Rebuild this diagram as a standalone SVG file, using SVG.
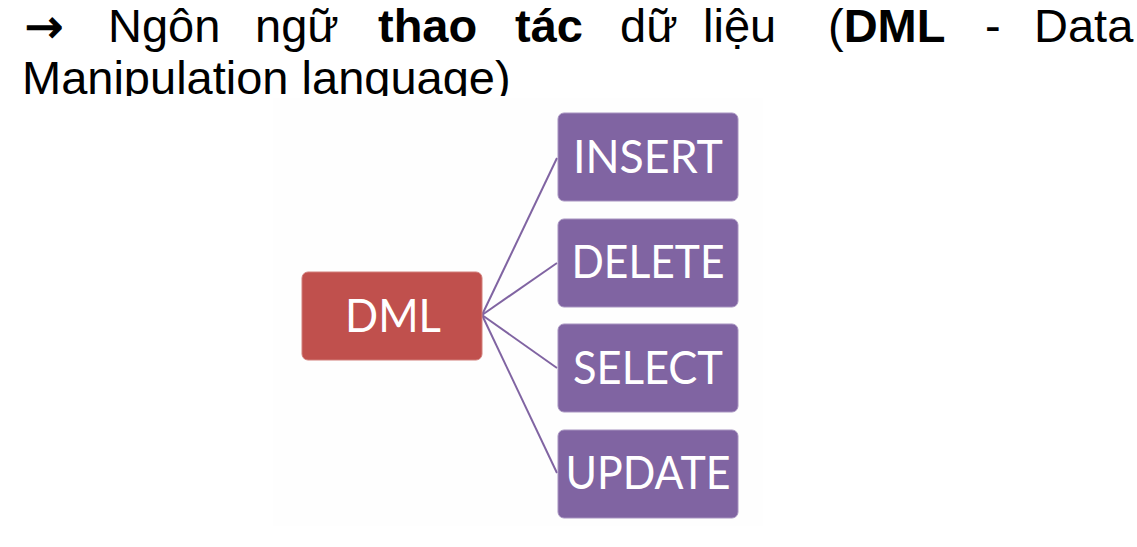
<svg xmlns="http://www.w3.org/2000/svg" width="1137" height="547" viewBox="0 0 1137 547">
<style>
.t{font-family:"Liberation Sans",Arial,sans-serif;font-size:47px;fill:#000}
.b{font-weight:bold}
.a{font-family:"DejaVu Sans",sans-serif;font-size:46px;fill:#000;stroke:#000;stroke-width:1.2}
.n{font-family:Lato,"Open Sans",sans-serif;font-size:46px;fill:#fff;text-anchor:middle}
.p{fill:#8064A2;stroke:#a793c0;stroke-width:1}
.r{fill:#C0504D;stroke:#d27e7b;stroke-width:1}
.c{stroke:#8064A2;stroke-width:2;fill:none}
</style>
<defs>
<clipPath id="clipT"><rect x="0" y="50" width="1137" height="46"/></clipPath>
</defs>
<rect width="1137" height="547" fill="#fff"/>
<g id="title">
<text class="a" x="25" y="42">→</text>
<text class="t" y="42"><tspan x="108">Ngôn</tspan><tspan x="255">ngữ</tspan><tspan x="378" class="b">thao</tspan><tspan x="515" class="b">tác</tspan><tspan x="620">dữ</tspan><tspan x="703">liệu</tspan><tspan x="828">(</tspan><tspan class="b">DML</tspan><tspan x="985">-</tspan><tspan x="1034">Data</tspan></text>
<text class="t" x="22" y="94" clip-path="url(#clipT)">Manipulation language)</text>
</g>
<rect x="273" y="98" width="490" height="428" fill="#fefefe"/>
<g id="connectors">
<line class="c" x1="482" y1="315" x2="557" y2="158"/>
<line class="c" x1="482" y1="315" x2="557" y2="263"/>
<line class="c" x1="482" y1="315" x2="557" y2="368"/>
<line class="c" x1="482" y1="315" x2="557" y2="473"/>
</g>
<g id="dml">
<rect class="r" x="302" y="272" width="180" height="88" rx="6"/>
<text class="n" x="393" y="332" textLength="96" lengthAdjust="spacingAndGlyphs">DML</text>
</g>
<g id="insert">
<rect class="p" x="558" y="113" width="180" height="88" rx="6"/>
<text class="n" x="648" y="173" textLength="150" lengthAdjust="spacingAndGlyphs">INSERT</text>
</g>
<g id="delete">
<rect class="p" x="558" y="219" width="180" height="88" rx="6"/>
<text class="n" x="648" y="278" textLength="153" lengthAdjust="spacingAndGlyphs">DELETE</text>
</g>
<g id="select">
<rect class="p" x="558" y="324" width="180" height="88" rx="6"/>
<text class="n" x="648" y="384" textLength="150" lengthAdjust="spacingAndGlyphs">SELECT</text>
</g>
<g id="update">
<rect class="p" x="558" y="430" width="180" height="88" rx="6"/>
<text class="n" x="648" y="489" textLength="165" lengthAdjust="spacingAndGlyphs">UPDATE</text>
</g>
</svg>
